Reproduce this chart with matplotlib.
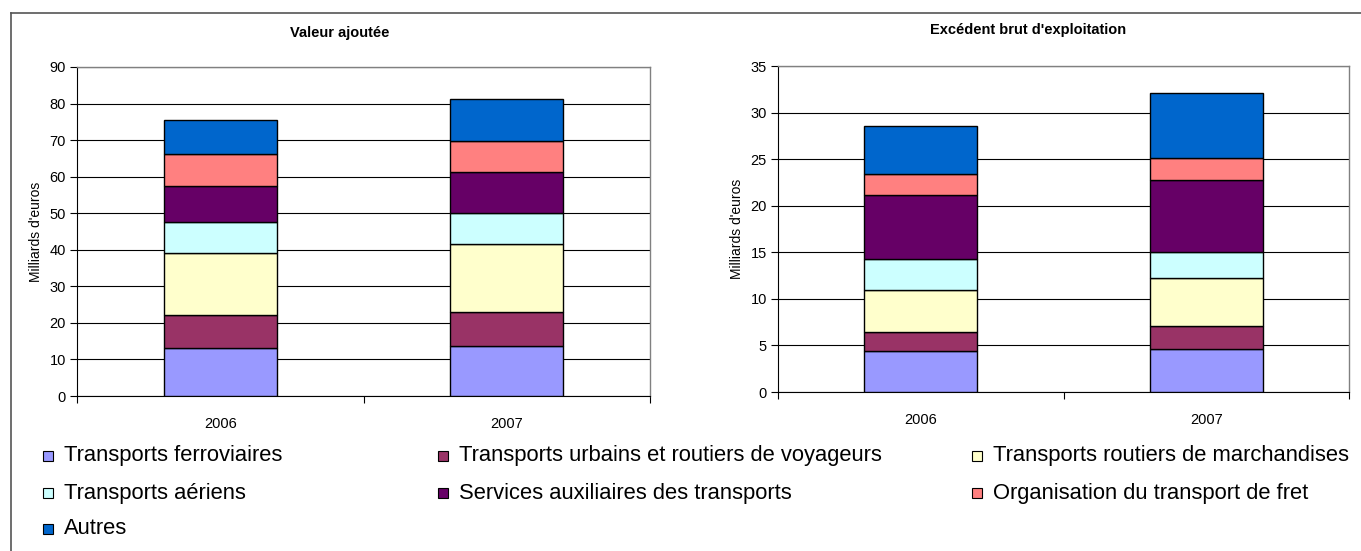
import matplotlib
matplotlib.use("Agg")
import matplotlib.pyplot as plt
import numpy as np
from matplotlib.patches import Rectangle
from matplotlib.lines import Line2D

plt.rcParams['font.family'] = ['Liberation Sans', 'DejaVu Sans']

years = ["2006", "2007"]
series = ["Transports ferroviaires",
          "Transports urbains et routiers de voyageurs",
          "Transports routiers de marchandises",
          "Transports aériens",
          "Services auxiliaires des transports",
          "Organisation du transport de fret",
          "Autres"]
colors = ["#9999FF", "#993366", "#FFFFCC", "#CCFFFF", "#660066", "#FF8080", "#0066CC"]

# Valeur ajoutée (milliards d'euros), per series: [2006, 2007]
va_ferro = [13.1, 13.6]
va_urbains = [9.1, 9.4]
va_march = [16.8, 18.5]
va_aeriens = [8.6, 8.5]
va_aux = [9.9, 11.2]
va_fret = [8.6, 8.5]
va_autres = [9.5, 11.6]

# Excédent brut d'exploitation (milliards d'euros)
ebe_ferro = [4.35, 4.65]
ebe_urbains = [2.1, 2.4]
ebe_march = [4.45, 5.15]
ebe_aeriens = [3.4, 2.85]
ebe_aux = [6.9, 7.7]
ebe_fret = [2.25, 2.4]
ebe_autres = [5.15, 6.95]

va = [va_ferro, va_urbains, va_march, va_aeriens, va_aux, va_fret, va_autres]
ebe = [ebe_ferro, ebe_urbains, ebe_march, ebe_aeriens, ebe_aux, ebe_fret, ebe_autres]

W, H = 1361, 551
fig = plt.figure(figsize=(W/100, H/100), dpi=100)

def px(x0, y0, x1, y1):
    return [x0/W, 1 - y1/H, (x1-x0)/W, (y1-y0)/H]

def draw(ax, data, ymax, step, title, tx, ty):
    x = np.arange(len(years))
    bottom = np.zeros(len(years))
    for vals, c in zip(data, colors):
        v = np.array(vals)
        ax.bar(x, v, width=0.395, bottom=bottom, color=c, edgecolor='black',
               linewidth=1.0, zorder=3)
        bottom += v
    ax.set_xlim(-0.5, len(years) - 0.5)
    ax.set_ylim(0, ymax)
    ax.set_yticks(np.arange(0, ymax + step/2, step))
    ax.yaxis.grid(True, color='black', linewidth=0.8, zorder=0)
    ax.set_axisbelow(True)
    ax.set_xticks(x)
    ax.set_xticklabels(years, fontsize=10.5)
    ax.set_xticks([-0.5, 0.5, 1.5], minor=True)
    ax.tick_params(axis='x', which='major', length=0, pad=15)
    ax.tick_params(axis='x', which='minor', length=5, width=0.8, direction='out')
    ax.tick_params(axis='y', length=5, width=0.8, labelsize=10.5, pad=3)
    for s in ['top', 'right']:
        ax.spines[s].set_color('#808080')
        ax.spines[s].set_linewidth(1.0)
    for s in ['left', 'bottom']:
        ax.spines[s].set_color('black')
        ax.spines[s].set_linewidth(0.8)
    ax.set_ylabel("Milliards d'euros", fontsize=10, labelpad=5)
    fig.text(tx/W, 1 - ty/H, title, ha='center', va='center', fontsize=10.5,
             fontweight='bold')

ax1 = fig.add_axes(px(77, 67, 650, 396))
draw(ax1, va, 90, 10, "Valeur ajoutée", 340, 33)
ax2 = fig.add_axes(px(778, 66, 1349, 392))
draw(ax2, ebe, 35, 5, "Excédent brut d'exploitation", 1028, 30)

# outer frame
fig.add_artist(Line2D([11/W, 11/W], [0, 1 - 13/H], color='#555555', lw=1.2,
                      transform=fig.transFigure))
fig.add_artist(Line2D([11/W, 1], [1 - 13/H, 1 - 13/H], color='#555555', lw=1.2,
                      transform=fig.transFigure))

# legend (row-major, three columns)
col_x = [43, 438, 972]
row_y = [456, 493, 529]
for i, (name, c) in enumerate(zip(series, colors)):
    r, k = divmod(i, 3)
    x0, y0 = col_x[k], row_y[r]
    fig.add_artist(Rectangle((x0/W, 1 - (y0 + 5)/H), 10/W, 10/H, facecolor=c,
                             edgecolor='black', lw=0.8, transform=fig.transFigure))
    fig.text((x0 + 21)/W, 1 - y0/H, name, ha='left', va='center', fontsize=15.8)

fig.savefig("out.png", dpi=100)
